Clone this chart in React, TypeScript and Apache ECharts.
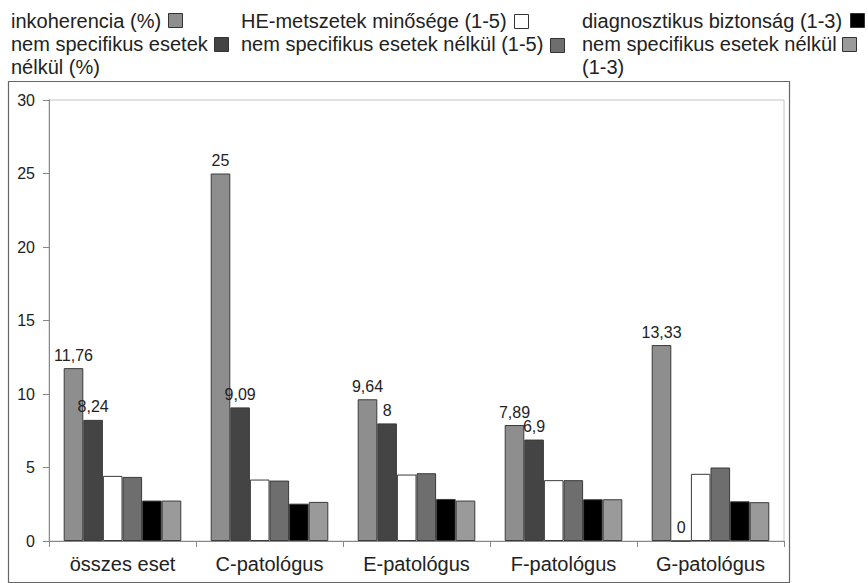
import React, { useEffect, useRef } from "react";
import * as echarts from "echarts";

const categories = ["összes eset", "C-patológus", "E-patológus", "F-patológus", "G-patológus"];
const seriesNames = [
  "inkoherencia (%)",
  "nem specifikus esetek nélkül (%)",
  "HE-metszetek minősége (1-5)",
  "nem specifikus esetek nélkül (1-5)",
  "diagnosztikus biztonság (1-3)",
  "nem specifikus esetek nélkül (1-3)",
];
const inkoherencia = [11.76, 25, 9.64, 7.89, 13.33];
const inkoherenciaNemSpec = [8.24, 9.09, 8, 6.9, 0];
const heMinoseg = [4.43, 4.18, 4.52, 4.14, 4.57];
const heMinosegNemSpec = [4.36, 4.11, 4.61, 4.14, 5.0];
const diagBiztonsag = [2.75, 2.54, 2.86, 2.84, 2.7];
const diagBiztonsagNemSpec = [2.75, 2.66, 2.75, 2.84, 2.64];
const yTicks = [0, 5, 10, 15, 20, 25, 30];

const seriesData = [inkoherencia, inkoherenciaNemSpec, heMinoseg, heMinosegNemSpec, diagBiztonsag, diagBiztonsagNemSpec];
const colors = ["#8e8e8e", "#444444", "#ffffff", "#6e6e6e", "#000000", "#9a9a9a"];
const showLabels = [true, true, false, false, false, false];

const FONT = "'Liberation Sans', Arial, sans-serif";

export default function App() {
  const ref = useRef<HTMLDivElement>(null);
  useEffect(() => {
    if (!ref.current) return;
    const chart = echarts.init(ref.current, null, { renderer: "svg" });
    const legendText = (x: number, y: number, text: string) => ({
      type: "text",
      x,
      y,
      style: {
        text,
        fontSize: 20,
        fontFamily: FONT,
        fill: "#222",
        verticalAlign: "middle",
        align: "left",
      },
    });
    const legendBox = (x: number, y: number, fill: string) => ({
      type: "rect",
      shape: { x: x + 0.5, y: y + 0.5, width: 14, height: 14 },
      style: { fill, stroke: "#333", lineWidth: 1 },
    });
    chart.setOption({
      animation: false,
      backgroundColor: "#ffffff",
      textStyle: { fontFamily: FONT },
      grid: {
        left: 49,
        right: 84,
        top: 100,
        bottom: 42,
        containLabel: false,
        show: true,
        borderColor: "#c4c4c4",
        borderWidth: 1,
        backgroundColor: "transparent",
      },
      xAxis: {
        type: "category",
        data: categories,
        axisLine: { lineStyle: { color: "#888", width: 1 } },
        axisTick: { show: true, length: 6, lineStyle: { color: "#888" } },
        axisLabel: { fontSize: 20, color: "#222", margin: 13, fontFamily: FONT },
      },
      yAxis: {
        type: "value",
        min: yTicks[0],
        max: yTicks[yTicks.length - 1],
        interval: 5,
        axisLine: { show: true, lineStyle: { color: "#888", width: 1 } },
        axisTick: { show: true, length: 6, lineStyle: { color: "#888" } },
        splitLine: { show: false },
        axisLabel: { fontSize: 16, color: "#222", margin: 14, fontFamily: FONT },
      },
      series: seriesData.map((d, i) => ({
        name: seriesNames[i],
        type: "bar",
        data: d,
        barGap: "0%",
        barCategoryGap: "20%",
        itemStyle: { color: colors[i], borderColor: "#3a3a3a", borderWidth: 1 },
        label: {
          show: showLabels[i],
          position: "top",
          distance: 5,
          fontSize: 16,
          color: "#222",
          fontFamily: FONT,
          formatter: (p: any) => String(p.value).replace(".", ","),
        },
      })),
      graphic: [
        {
          type: "rect",
          shape: { x: 8.5, y: 81.5, width: 781, height: 501 },
          style: { fill: "none", stroke: "#666", lineWidth: 1.2 },
          z: -1,
        },
        legendText(11, 20.5, "inkoherencia (%)"),
        legendBox(168, 13, colors[0]),
        legendText(11, 43.5, "nem specifikus esetek"),
        legendBox(214, 37, colors[1]),
        legendText(11, 66.5, "nélkül (%)"),
        legendText(241, 20.5, "HE-metszetek minősége (1-5)"),
        legendBox(514, 14, colors[2]),
        legendText(241, 43.5, "nem specifikus esetek nélkül (1-5)"),
        legendBox(550, 38, colors[3]),
        legendText(582, 20.5, "diagnosztikus biztonság (1-3)"),
        legendBox(850, 13, colors[4]),
        legendText(582, 43.5, "nem specifikus esetek nélkül"),
        legendBox(842, 37, colors[5]),
        legendText(582, 66.5, "(1-3)"),
      ],
    });
    return () => chart.dispose();
  }, []);
  return (
    <div
      ref={ref}
      style={{ position: "fixed", left: 0, top: 0, width: 868, height: 583, background: "#fff" }}
    />
  );
}
